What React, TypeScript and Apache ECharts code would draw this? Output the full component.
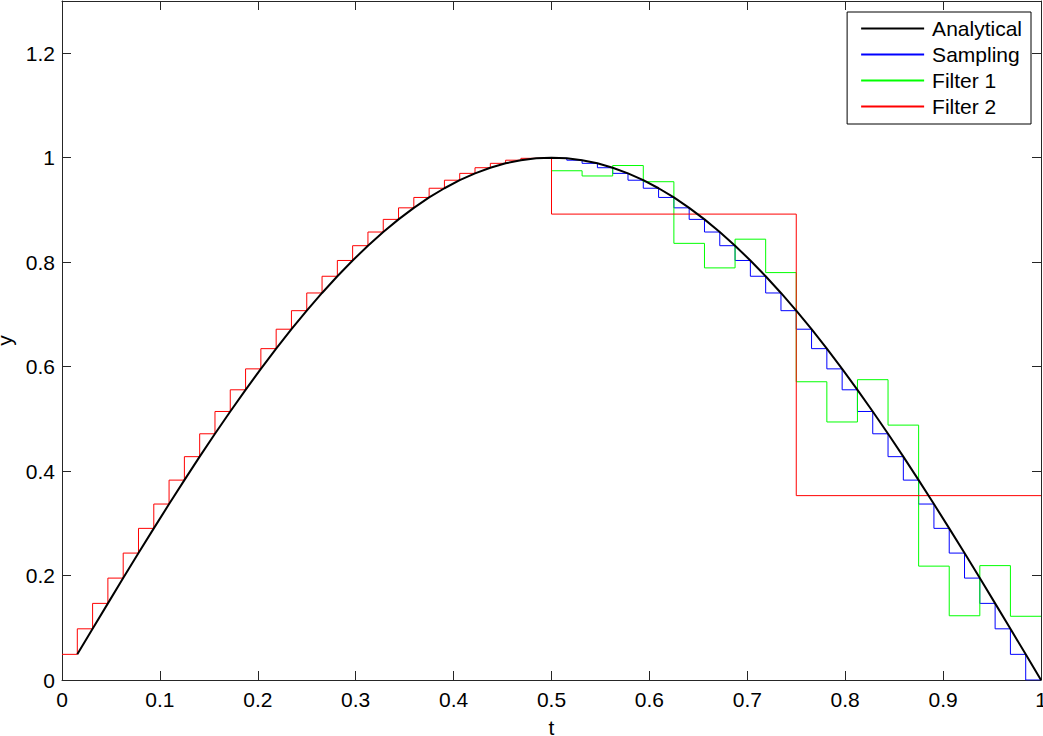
import React, { useEffect, useRef } from "react";
import * as echarts from "echarts";

// Sampled values y(k/64), k = 1..64 (each held over the preceding 1/64 interval)
const sampleStep = 1 / 64;
const sampleValues = [
  0.0491, 0.098, 0.1467, 0.1951, 0.243, 0.2903, 0.3369, 0.3827,
  0.4276, 0.4714, 0.5141, 0.5556, 0.5957, 0.6344, 0.6716, 0.7071,
  0.741, 0.773, 0.8032, 0.8315, 0.8577, 0.8819, 0.904, 0.9239,
  0.9415, 0.9569, 0.97, 0.9808, 0.9892, 0.9952, 0.9988, 1.0,
  0.9988, 0.9952, 0.9892, 0.9808, 0.97, 0.9569, 0.9415, 0.9239,
  0.904, 0.8819, 0.8577, 0.8315, 0.8032, 0.773, 0.741, 0.7071,
  0.6716, 0.6344, 0.5957, 0.5556, 0.5141, 0.4714, 0.4276, 0.3827,
  0.3369, 0.2903, 0.243, 0.1951, 0.1467, 0.098, 0.0491, 0.0,
];
// the sampling staircase is visible only from t = 0.5 (hidden under Filter 2 before)
const samplingVisibleFrom = 32;

// Filter 1: held values over 1/32 intervals starting at t = 0.5
const filter1Start = 0.5;
const filter1Step = 1 / 32;
const filter1Values = [
  0.975, 0.965, 0.985, 0.954, 0.836, 0.789, 0.844, 0.78,
  0.571, 0.494, 0.575, 0.488, 0.218, 0.123, 0.219, 0.122,
];

// Filter 2: follows the samples until t = 0.5, then held values
const filter2SampleCount = 32;
const filter2Breaks = [0.5, 0.75, 1.0];
const filter2Values = [0.892, 0.353];

const xTicks = { min: 0, max: 1, interval: 0.1 };
const yTicks = { min: 0, max: 1.3, interval: 0.2 };

const legendNames = ["Analytical", "Sampling", "Filter 1", "Filter 2"];

function stepPoints(starts: number[], ends: number[], values: number[]) {
  const pts: number[][] = [];
  for (let i = 0; i < values.length; i++) {
    pts.push([starts[i], values[i]]);
    pts.push([ends[i], values[i]]);
  }
  return pts;
}

export default function App() {
  const ref = useRef<HTMLDivElement>(null);

  useEffect(() => {
    if (!ref.current) return;
    const chart = echarts.init(ref.current, undefined, { renderer: "svg" });

    const sStarts = sampleValues.map((_, k) => k * sampleStep);
    const sEnds = sampleValues.map((_, k) => (k + 1) * sampleStep);
    const samplingData = stepPoints(
      sStarts.slice(samplingVisibleFrom),
      sEnds.slice(samplingVisibleFrom),
      sampleValues.slice(samplingVisibleFrom)
    );

    const analyticalData = sampleValues.map((v, k) => [(k + 1) * sampleStep, v]);

    const f1Starts = filter1Values.map((_, k) => filter1Start + k * filter1Step);
    const f1Ends = filter1Values.map((_, k) => filter1Start + (k + 1) * filter1Step);
    const filter1Data = stepPoints(f1Starts, f1Ends, filter1Values);

    const f2Starts = [
      ...sStarts.slice(0, filter2SampleCount),
      ...filter2Breaks.slice(0, -1),
    ];
    const f2Ends = [
      ...sEnds.slice(0, filter2SampleCount),
      ...filter2Breaks.slice(1),
    ];
    const f2Vals = [...sampleValues.slice(0, filter2SampleCount), ...filter2Values];
    const filter2Data = stepPoints(f2Starts, f2Ends, f2Vals);

    const font = "'Liberation Sans', Arial, Helvetica, sans-serif";
    const axisColor = "#262626";
    const fs = 21;

    const baseX = {
      type: "value",
      min: xTicks.min,
      max: xTicks.max,
      interval: xTicks.interval,
      splitLine: { show: false },
      axisLine: { show: true, onZero: false, lineStyle: { color: axisColor, width: 1 } },
      axisTick: { show: true, inside: true, length: 9, lineStyle: { color: axisColor } },
    };
    const baseY = {
      type: "value",
      min: yTicks.min,
      max: yTicks.max,
      interval: yTicks.interval,
      splitLine: { show: false },
      axisLine: { show: true, onZero: false, lineStyle: { color: axisColor, width: 1 } },
      axisTick: { show: true, inside: true, length: 9, lineStyle: { color: axisColor } },
    };

    const lineSeries = (name: string, data: number[][], color: string, width: number) => ({
      name,
      type: "line",
      data,
      showSymbol: false,
      symbol: "none",
      silent: true,
      lineStyle: { color, width },
      itemStyle: { color },
      xAxisIndex: 0,
      yAxisIndex: 0,
    });

    chart.setOption({
      animation: false,
      textStyle: { fontFamily: font },
      grid: {
        left: 62,
        right: 2,
        top: 1,
        bottom: 56,
        containLabel: false,
        outerBoundsMode: "none",
      },
      legend: {
        data: legendNames,
        orient: "vertical",
        right: 12,
        top: 12,
        backgroundColor: "#ffffff",
        borderColor: "#000000",
        borderWidth: 1,
        borderRadius: 0,
        padding: [6, 9, 7, 13],
        itemWidth: 63,
        itemHeight: 14,
        itemGap: 5,
        selectedMode: false,
        itemStyle: { opacity: 0 },
        textStyle: { fontSize: fs, color: "#000", fontFamily: font, padding: [0, 0, 0, 3] },
      },
      xAxis: [
        {
          ...baseX,
          position: "bottom",
          name: "t",
          nameLocation: "middle",
          nameGap: 37,
          nameTextStyle: { fontSize: fs, color: "#000", fontFamily: font },
          axisLabel: { fontSize: fs, color: "#000", margin: 9, fontFamily: font },
        },
        {
          ...baseX,
          position: "top",
          axisLabel: { show: false },
        },
      ],
      yAxis: [
        {
          ...baseY,
          position: "left",
          name: "y",
          nameLocation: "middle",
          nameGap: 46,
          nameTextStyle: { fontSize: fs, color: "#000", fontFamily: font },
          axisLabel: {
            fontSize: fs,
            color: "#000",
            margin: 7,
            fontFamily: font,
            showMaxLabel: false,
            formatter: (v: number) => (v > 1.25 ? "" : String(Math.round(v * 10) / 10)),
          },
        },
        {
          ...baseY,
          position: "right",
          axisLabel: { show: false },
        },
      ],
      series: [
        lineSeries("Sampling", samplingData, "#0000ff", 1),
        lineSeries("Filter 1", filter1Data, "#00ff00", 1),
        lineSeries("Filter 2", filter2Data, "#ff0000", 1),
        lineSeries("Analytical", analyticalData, "#000000", 2),
      ],
    });

    return () => chart.dispose();
  }, []);

  return (
    <div
      ref={ref}
      style={{ position: "fixed", left: 0, top: 0, width: 1043, height: 736, background: "#fff" }}
    />
  );
}
